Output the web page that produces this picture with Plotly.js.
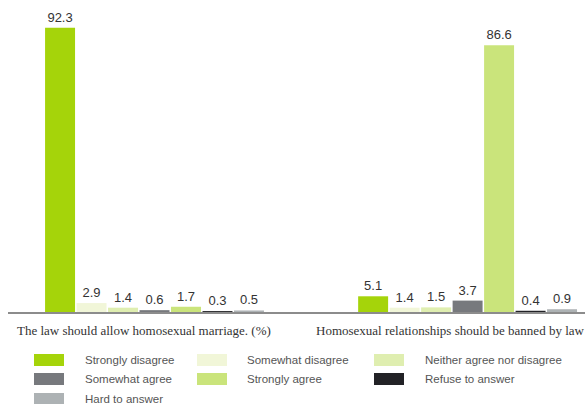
<!DOCTYPE html>
<html>
<head>
<meta charset="utf-8">
<script src="https://cdn.plot.ly/plotly-3.0.1.min.js"></script>
<style>html,body{margin:0;padding:0;background:#fff;}#chart{width:588px;height:404px;}</style>
</head>
<body>
<div id="chart"></div>
<script>
const categories = ["The law should allow homosexual marriage. (%)", "Homosexual relationships should be banned by law"];
const seriesNames = ["Strongly disagree", "Somewhat disagree", "Neither agree nor disagree", "Somewhat agree", "Strongly agree", "Refuse to answer", "Hard to answer"];
const stronglyDisagree = [92.3, 5.1];
const somewhatDisagree = [2.9, 1.4];
const neither = [1.4, 1.5];
const somewhatAgree = [0.6, 3.7];
const stronglyAgree = [1.7, 86.6];
const refuse = [0.3, 0.4];
const hardToAnswer = [0.5, 0.9];
const seriesValues = [stronglyDisagree, somewhatDisagree, neither, somewhatAgree, stronglyAgree, refuse, hardToAnswer];
const colors = ["#a5d40a", "#f1f6d8", "#dfeeb0", "#77797d", "#cae47b", "#222226", "#adb2b4"];

const W = 588, H = 404;
const mL = 8, mR = 3, mT = 20, mB = 92;
const pw = W - mL - mR, ph = H - mT - mB;
const px2x = p => (p - mL) / pw;
const py2y = p => (H - mB - p) / ph;

const traces = seriesNames.map((n, i) => ({
  type: "bar",
  name: n,
  x: categories,
  y: seriesValues[i],
  marker: {color: colors[i], line: {width: 0}},
  text: seriesValues[i].map(v => v.toFixed(1)),
  textposition: "outside",
  textfont: {family: "Liberation Sans, Arial, sans-serif", size: 13, color: "#333"},
  cliponaxis: false,
  hoverinfo: "none",
  showlegend: false
}));

const shapes = [];
const annotations = [];
// category labels
const catLeft = [15, 314];
categories.forEach((c, i) => {
  annotations.push({
    xref: "paper", yref: "paper", x: px2x(catLeft[i]), y: py2y(330),
    xanchor: "left", yanchor: "middle", showarrow: false, text: c,
    font: {family: "Liberation Serif, Times New Roman, serif", size: 13, color: "#333"}
  });
});
// legend
const colSw = [34, 197, 374], colTx = [83, 245, 423], rowY = [360, 379, 399];
seriesNames.forEach((n, i) => {
  const c = i % 3, r = Math.floor(i / 3);
  shapes.push({type: "rect", xref: "paper", yref: "paper",
    x0: px2x(colSw[c]), x1: px2x(colSw[c] + 30), y0: py2y(rowY[r] - 6), y1: py2y(rowY[r] + 6),
    fillcolor: colors[i], line: {width: 0}});
  annotations.push({xref: "paper", yref: "paper", x: px2x(colTx[c]), y: py2y(rowY[r]),
    xanchor: "left", yanchor: "middle", showarrow: false, text: n,
    font: {family: "Liberation Sans, Arial, sans-serif", size: 11.5, color: "#555"}});
});

const layout = {
  width: W, height: H,
  margin: {l: mL, r: mR, t: mT, b: mB, pad: 0},
  paper_bgcolor: "#fff", plot_bgcolor: "#fff",
  barmode: "group", bargap: 0.296, bargroupgap: 0.048,
  xaxis: {type: "category", range: [-0.468, 1.375], showticklabels: false, ticks: "",
    showgrid: false, zeroline: false, showline: true, linecolor: "#8c8c8c", linewidth: 1.5, fixedrange: true},
  yaxis: {range: [0, ph / 3.08], visible: false, showgrid: false, zeroline: false, fixedrange: true},
  shapes: shapes,
  annotations: annotations,
  showlegend: false
};

Plotly.newPlot("chart", traces, layout, {displayModeBar: false, staticPlot: true});
</script>
</body>
</html>
